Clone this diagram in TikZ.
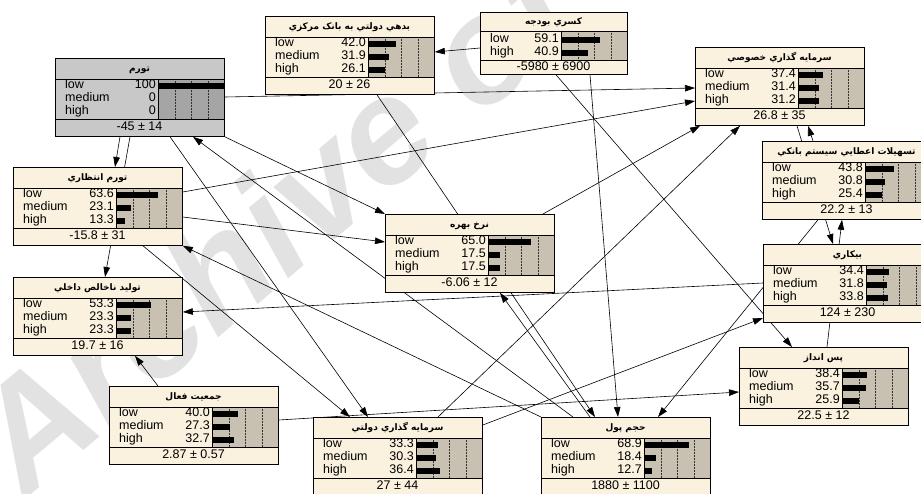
\documentclass[tikz,border=0pt]{standalone}
\usepackage{fontspec}
\setmainfont{Liberation Sans}
\newfontfamily\arabicfont[Script=Arabic]{DejaVu Sans}
\TeXXeTstate=1
\usetikzlibrary{arrows.meta,calc}
\definecolor{crbox}{RGB}{250,242,222}
\definecolor{crbar}{RGB}{200,193,178}
\definecolor{grbox}{RGB}{200,200,200}
\definecolor{grbar}{RGB}{165,165,165}
\definecolor{wmgray}{RGB}{226,226,226}
\pgfdeclarelayer{wm}\pgfdeclarelayer{bg}
\pgfsetlayers{wm,bg,main}
\tikzset{
 boxshape/.style={draw, line width=0.8pt, anchor=north west, inner sep=0pt, minimum width=169pt, minimum height=78pt},
 twoshape/.style={draw, line width=0.8pt, anchor=north west, inner sep=0pt, minimum width=147pt, minimum height=62pt},
 rowtxt/.style={inner sep=0pt, text height=8pt, text depth=1.5pt, font=\fontsize{12.5}{13}\selectfont},
 ttl/.style={inner sep=0pt, text height=7pt, text depth=2pt, font=\arabicfont\bfseries\fontsize{9}{10}\selectfont},
 gridl/.style={densely dotted, line width=0.5pt, black!80},
 sep/.style={line width=0.6pt},
 edge/.style={line width=0.6pt, -{Triangle[length=10pt,width=6.5pt]}},
}
\newcommand{\bnbox}[9]{%
\begin{scope}[shift={(#2,#3)}]
\node[boxshape, fill=#9box] (#1) at (0,0) {};
\fill[#9bar] (103,21) rectangle (169,61);
\foreach \gx in {120,136.5,153} \draw[gridl] (\gx,21) -- (\gx,61);
\draw[sep] (0,21) -- (169,21) (0,61) -- (169,61) (103,21) -- (103,61);
\fill (103,24.5) rectangle ({103+0.66*#5},30.5);
\fill (103,37.5) rectangle ({103+0.66*#6},43.5);
\fill (103,50.5) rectangle ({103+0.66*#7},56.5);
\node[rowtxt, anchor=west] at (10,27.5) {low};
\node[rowtxt, anchor=west] at (10,40.5) {medium};
\node[rowtxt, anchor=west] at (10,53.5) {high};
\node[rowtxt, anchor=east] at (101,27.5) {#5};
\node[rowtxt, anchor=east] at (101,40.5) {#6};
\node[rowtxt, anchor=east] at (101,53.5) {#7};
\node[ttl] at (84.5,10.5) {#4};
\node[rowtxt] at (84.5,69.5) {#8};
\draw[line width=0.8pt] (0,0) rectangle (169,78);
\end{scope}}
\newcommand{\bntwo}[7]{%
\begin{scope}[shift={(#2,#3)}]
\node[twoshape, fill=crbox] (#1) at (0,0) {};
\fill[crbar] (81,19) rectangle (147,48);
\foreach \gx in {98,114.5,131} \draw[gridl] (\gx,19) -- (\gx,48);
\draw[sep] (0,19) -- (147,19) (0,48) -- (147,48) (81,19) -- (81,48);
\fill (81,24.5) rectangle ({81+0.66*#5},30.5);
\fill (81,37.5) rectangle ({81+0.66*#6},43.5);
\node[rowtxt, anchor=west] at (10,27.5) {low};
\node[rowtxt, anchor=west] at (10,40.5) {high};
\node[rowtxt, anchor=east] at (79,27.5) {#5};
\node[rowtxt, anchor=east] at (79,40.5) {#6};
\node[ttl] at (73.5,9.5) {#4};
\node[rowtxt] at (73.5,55.5) {#7};
\draw[line width=0.8pt] (0,0) rectangle (147,62);
\end{scope}}
\begin{document}
\begin{tikzpicture}[x=1pt,y=-1pt]
\useasboundingbox (0,0) rectangle (921,493);
\begin{pgfonlayer}{wm}
\node[rotate=40, anchor=base west, text=wmgray, inner sep=0pt, font=\fontsize{150}{150}\selectfont\bfseries\itshape] (wmark) at (25,500) {Archive of SID};
\end{pgfonlayer}
% nodes
\bnbox{tavarom}{55}{58}{\beginR تورم\endR}{100}{0}{0}{-45 ± 14}{gr}
\bnbox{bedehi}{265}{16}{\beginR بدهي دولتي به بانک مرکزي\endR}{42.0}{31.9}{26.1}{20 ± 26}{cr}
\bntwo{kasri}{480}{12}{\beginR کسري بودجه\endR}{59.1}{40.9}{-5980 ± 6900}
\bnbox{sarmayeK}{695}{47}{\beginR سرمايه گذاري خصوصي\endR}{37.4}{31.4}{31.2}{26.8 ± 35}{cr}
\bnbox{tavaromE}{13}{167}{\beginR تورم انتظاري\endR}{63.6}{23.1}{13.3}{-15.8 ± 31}{cr}
\bnbox{tashilat}{762}{141}{\beginR تسهيلات اعطايي سيستم بانکي\endR}{43.8}{30.8}{25.4}{22.2 ± 13}{cr}
\bnbox{nerkh}{385}{214}{\beginR نرخ بهره\endR}{65.0}{17.5}{17.5}{-6.06 ± 12}{cr}
\bnbox{tolid}{13}{277}{\beginR توليد ناخالص داخلي\endR}{53.3}{23.3}{23.3}{19.7 ± 16}{cr}
\bnbox{bikari}{763}{244}{\beginR بيکاري\endR}{34.4}{31.8}{33.8}{124 ± 230}{cr}
\bnbox{pasandaz}{739}{347}{\beginR پس انداز\endR}{38.4}{35.7}{25.9}{22.5 ± 12}{cr}
\bnbox{jamiat}{109}{386}{\beginR جمعيت فعال\endR}{40.0}{27.3}{32.7}{2.87 ± 0.57}{cr}
\bnbox{sarmayeD}{313}{417}{\beginR سرمايه گذاري دولتي\endR}{33.3}{30.3}{36.4}{27 ± 44}{cr}
\bnbox{hajm}{541}{417}{\beginR حجم پول\endR}{68.9}{18.4}{12.7}{1880 ± 1100}{cr}
% edges
\begin{pgfonlayer}{bg}
\draw[edge] ($(kasri.north west)+(0,36)$) -- ($(bedehi.north east)+(0,36)$);
\draw[edge] ($(tavarom.north east)+(0,39)$) -- ($(sarmayeK.north west)+(0,41)$);
\draw[edge] ($(tavaromE.north east)+(0,25)$) -- ($(sarmayeK.north west)+(0,54)$);
\draw[edge] ($(tavarom.south west)+(65,0)$) -- ($(tavaromE.north west)+(102,0)$);
\draw[edge] ($(tavarom.south west)+(75,0)$) -- ($(tolid.north west)+(92,0)$);
\draw[edge] ($(tavarom.south west)+(115,0)$) -- ($(sarmayeD.north west)+(55,0)$);
\draw[edge] ($(tavaromE.south west)+(130,0)$) -- ($(sarmayeD.north west)+(37,0)$);
\draw[edge] (hajm.north west) -- (tavaromE.south east);
\draw[edge] (tavarom.south east) -- (nerkh.north west);
\draw[edge] ($(hajm.north west)+(32,0)$) -- ($(tavarom.south west)+(138,0)$);
\draw[edge] ($(tavaromE.north east)+(0,50)$) -- ($(nerkh.north west)+(0,28)$);
\draw[edge] ($(bedehi.south west)+(112,0)$) -- ($(hajm.north west)+(54,0)$);
\draw[edge] ($(hajm.north west)+(49,0)$) -- ($(nerkh.south west)+(115,0)$);
\draw[edge] ($(kasri.south west)+(110,0)$) -- ($(hajm.north west)+(77,0)$);
\draw[edge] ($(nerkh.north west)+(158,0)$) -- ($(sarmayeK.south west)+(5,0)$);
\draw[edge] ($(sarmayeD.north west)+(125,0)$) -- ($(sarmayeK.south west)+(45,0)$);
\draw[edge] ($(tashilat.north west)+(51,0)$) -- ($(sarmayeK.south west)+(113,0)$);
\draw[edge] ($(tashilat.south west)+(56,0)$) -- ($(hajm.north west)+(117,0)$);
\draw[edge] ($(sarmayeK.south west)+(102,0)$) -- ($(bikari.north west)+(70,0)$);
\draw[edge] ($(pasandaz.north west)+(88,0)$) -- ($(tashilat.south west)+(80,0)$);
\draw[edge] ($(kasri.south west)+(76,0)$) -- ($(pasandaz.north west)+(53,0)$);
\draw[edge] ($(jamiat.north east)+(0,34)$) -- ($(pasandaz.north west)+(0,45)$);
\draw[edge] ($(jamiat.north west)+(49,0)$) -- ($(tolid.south west)+(122,0)$);
\draw[edge] ($(bikari.north west)+(0,39)$) -- ($(tolid.north east)+(0,35)$);
\draw[edge] ($(sarmayeD.north east)+(0,8)$) -- ($(bikari.north west)+(0,74)$);
\end{pgfonlayer}
\end{tikzpicture}
\end{document}
